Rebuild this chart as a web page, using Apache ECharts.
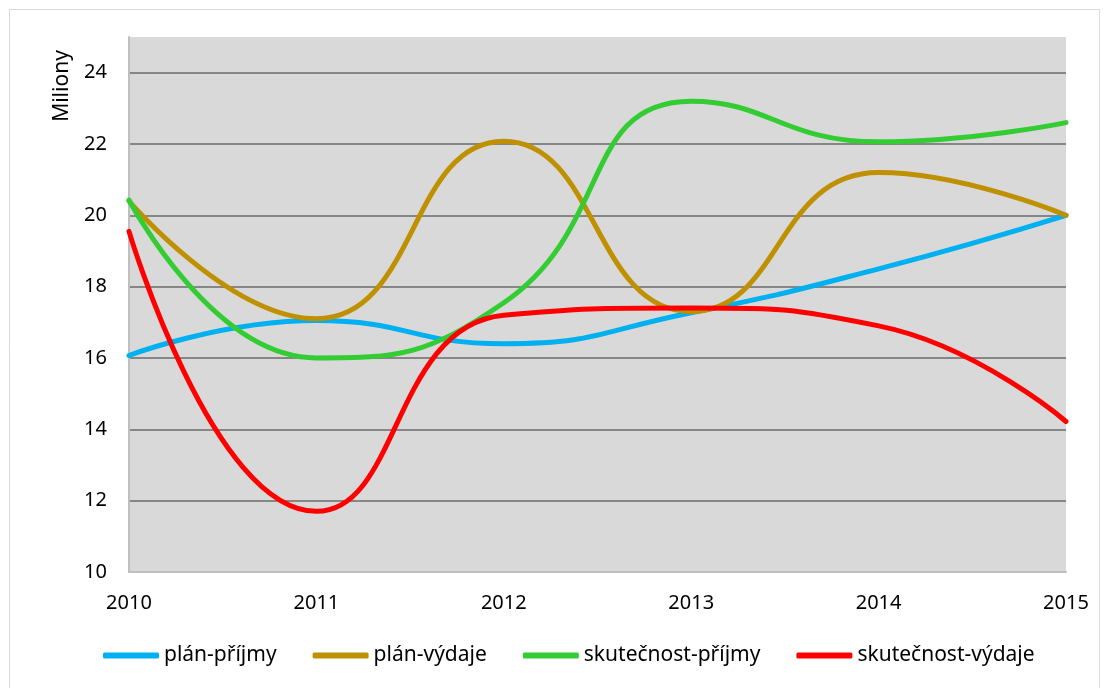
<!DOCTYPE html>
<html>
<head>
<meta charset="utf-8">
<script src="https://cdn.jsdelivr.net/npm/echarts@6/dist/echarts.min.js"></script>
<style>
  html, body { margin: 0; padding: 0; background: #fff; }
  #chart { width: 1104px; height: 688px; }
</style>
</head>
<body>
<div id="chart"></div>
<script>
// roky na ose x
const years = ['2010', '2011', '2012', '2013', '2014', '2015']
// hodnoty v milionech
const planPrijmy = [16.07, 17.05, 16.4, 17.27, 18.5, 20.0]
const planVydaje = [20.4, 17.1, 22.08, 17.3, 21.2, 20.0]
const skutPrijmy = [20.43, 16.0, 17.55, 23.2, 22.06, 22.6]
const skutVydaje = [19.55, 11.7, 17.2, 17.4, 16.9, 14.22]

const seriesNames = ['plán-příjmy', 'plán-výdaje', 'skutečnost-příjmy', 'skutečnost-výdaje']
const colors = ['#00b0f0', '#bf9000', '#33cc33', '#ff0000']
const fontFamily = '"Noto Sans", "Open Sans", sans-serif'

const chart = echarts.init(document.getElementById('chart'))

function makeLine(name, data, idx) {
  return {
    name: name,
    type: 'line',
    data: data,
    smooth: 0.5,
    symbol: 'none',
    lineStyle: { width: 5, color: colors[idx], cap: 'round' },
    itemStyle: { color: colors[idx] }
  }
}

const option = {
  animation: false,
  color: colors,
  textStyle: { fontFamily: fontFamily },
  graphic: [{
    type: 'rect',
    shape: { x: 9.5, y: 9.5, width: 1090, height: 700 },
    style: { fill: 'none', stroke: '#d9d9d9', lineWidth: 1 },
    silent: true
  }, {
    // popisek osy y
    type: 'text',
    x: 62,
    y: 86,
    rotation: Math.PI / 2,
    style: {
      text: 'Miliony',
      fontSize: 21,
      fontFamily: fontFamily,
      fill: '#000',
      align: 'center',
      verticalAlign: 'middle'
    },
    silent: true
  }],
  grid: {
    left: 129,
    right: 38,
    top: 37,
    bottom: 116,
    show: true,
    backgroundColor: '#d9d9d9',
    borderWidth: 0
  },
  legend: {
    bottom: 17,
    left: 98,
    icon: 'roundRect',
    itemWidth: 56,
    itemHeight: 6,
    itemGap: 36,
    textStyle: { fontSize: 21, color: '#000', fontFamily: fontFamily },
    data: seriesNames
  },
  xAxis: {
    type: 'category',
    data: years,
    boundaryGap: false,
    axisLine: { lineStyle: { color: '#bfbfbf', width: 2 } },
    axisTick: { show: false },
    axisLabel: { fontSize: 20, color: '#000', margin: 21 },
    splitLine: { show: false }
  },
  yAxis: {
    type: 'value',
    min: 10,
    max: 25,
    interval: 2,
    axisLine: { show: true, lineStyle: { color: '#bfbfbf', width: 2 } },
    axisTick: { show: false },
    axisLabel: {
      fontSize: 20,
      color: '#000',
      margin: 22,
      showMaxLabel: false
    },
    splitLine: {
      show: true,
      showMinLine: false,
      showMaxLine: false,
      lineStyle: { color: '#868686', width: 2 }
    }
  },
  series: [
    makeLine(seriesNames[0], planPrijmy, 0),
    makeLine(seriesNames[1], planVydaje, 1),
    makeLine(seriesNames[2], skutPrijmy, 2),
    makeLine(seriesNames[3], skutVydaje, 3)
  ]
}

chart.setOption(option)
</script>
</body>
</html>
